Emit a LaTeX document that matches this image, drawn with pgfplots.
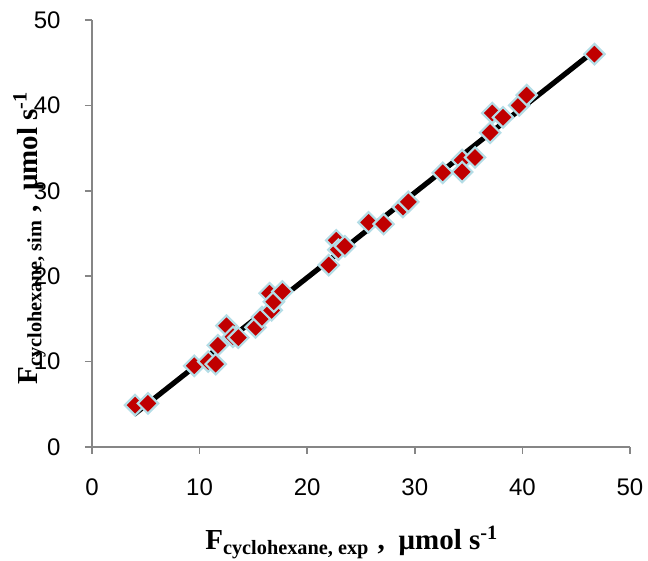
\documentclass[border=0pt]{standalone}
\usepackage{pgfplots}
\pgfplotsset{compat=1.18}
\usepackage{fontspec}
\setmainfont{Liberation Serif}
\newfontfamily\arialf{Liberation Sans}
\definecolor{mkred}{HTML}{C00000}
\definecolor{mkedge}{HTML}{B4DDE6}
\definecolor{axgray}{HTML}{868686}
\begin{document}
\begin{tikzpicture}
\begin{axis}[
  scale only axis,
  width=269pt, height=213.5pt,
  xmin=0, xmax=50, ymin=0, ymax=50,
  xtick={0,10,...,50}, ytick={0,10,...,50},
  axis x line*=bottom, axis y line*=left,
  axis line style={-, draw=axgray, line width=0.75pt},
  tick align=outside, major tick length=3.5pt,
  tick style={draw=axgray, line width=0.75pt},
  /pgf/number format/assume math mode=true,
  ticklabel style={font=\fontsize{12}{14}\selectfont\arialf},
  yticklabel style={anchor=east, inner sep=0pt, xshift=-12pt},
  xticklabel style={anchor=north, inner sep=0pt, yshift=-12pt},
  clip=false,
]
\addplot[black, line width=2.6pt, no marks] coordinates {(3.9,3.8) (46.5,46.2)};
\addplot[only marks, mark=square*, mark size=3.6pt,
  mark options={rotate=45, fill=mkred, draw=mkedge, line width=1.1pt}] coordinates {
(4.0,4.9) (5.2,5.1) (9.5,9.5) (10.8,10.0) (11.5,9.7) (11.7,11.9) (12.5,14.2)
(13.1,12.9) (13.6,12.8) (15.2,14.0) (15.8,15.2) (16.5,18.0) (16.7,16.0)
(16.9,17.0) (17.7,18.2) (22.0,21.3) (22.7,24.2) (22.9,23.1) (23.5,23.5)
(25.7,26.3) (27.1,26.1) (28.9,28.1) (29.4,28.7) (32.6,32.1) (34.4,33.6)
(34.4,32.2) (35.6,33.9) (37.0,36.8) (37.2,39.1) (38.2,38.6) (39.7,40.0)
(40.4,41.2) (46.7,46.0)
};
\node[anchor=base, inner sep=0pt, font=\fontsize{14.5}{17}\selectfont\bfseries]
  at (rel axis cs:0.483,-0.241) {F\textsubscript{cyclohexane, exp}\hspace{4pt},\hspace{7pt}μmol s\textsuperscript{-1}};
\node[anchor=base, rotate=90, inner sep=0pt, font=\fontsize{14.5}{17}\selectfont\bfseries]
  at (rel axis cs:-0.102,0.49) {F\textsubscript{cyclohexane, sim}\hspace{4pt},\hspace{7pt}μmol s\textsuperscript{-1}};
\coordinate (BL) at (rel axis cs:-0.171,-0.267);
\coordinate (TR) at (rel axis cs:1.0335,1.0468);
\end{axis}
\pgfresetboundingbox
\useasboundingbox (BL) rectangle (TR);
\end{tikzpicture}
\end{document}
